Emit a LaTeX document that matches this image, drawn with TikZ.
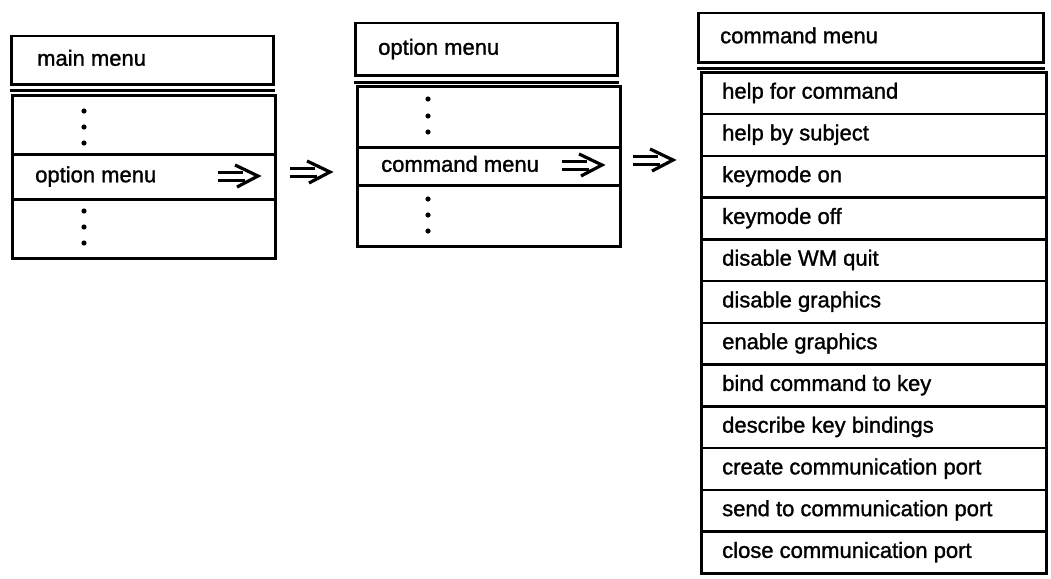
\documentclass[tikz,border=0pt]{standalone}
\usepackage{fontspec}
\setmainfont{Liberation Sans}
\newfontfamily\menufont[FakeBold=1.3]{Liberation Sans}
\begin{document}
\begin{tikzpicture}[x=1pt,y=-1pt,
  box/.style={draw,line width=2.5pt,rectangle,anchor=north west,inner xsep=0pt,inner ysep=0pt},
  lbl/.style={anchor=west,font=\menufont\fontsize{22}{26}\selectfont,text height=16pt,text depth=5pt,inner sep=0pt},
  sepline/.style={line width=2.5pt},
  dot/.style={fill=black},
  dblarrow/.pic={
    \draw[line width=3pt] (0,-4)--(25,-4) (0,4)--(27,4);
    \draw[line width=3.2pt,line join=miter] (17,-11)--(40,0)--(19,11);
  }]
\useasboundingbox (0,0) rectangle (1051,578);
% ---------- main menu ----------
\node[box,minimum width=262pt,minimum height=48pt] (tL) at (10,35) {};
\node[lbl] (tLt) at ([xshift=27pt]tL.west) {main menu};
\draw[sepline] ([yshift=-5pt]tL.south west) -- ([yshift=-5pt]tL.south east);
\node[box,minimum width=263pt,minimum height=59pt] (L1) at (11,94) {};
\node[box,minimum width=263pt,minimum height=45pt] (L2) at (11,153) {};
\node[lbl] (L2t) at ([xshift=24pt]L2.west) {option menu};
\node[box,minimum width=263pt,minimum height=59pt] (L3) at (11,198) {};
\foreach \y in {111,127,143,211,227,243} \fill[dot] (84,\y) circle (2.6);
\pic at (218,176) {dblarrow};
\pic at (290,172) {dblarrow};
% ---------- option menu ----------
\node[box,minimum width=262pt,minimum height=52pt] (tM) at (354,22) {};
\node[lbl] (tMt) at ([xshift=24pt]tM.west) {option menu};
\draw[sepline] ([yshift=-6pt]tM.south west) -- ([yshift=-6pt]tM.south east);
\node[box,minimum width=263pt,minimum height=61pt] (M1) at (356,85) {};
\node[box,minimum width=263pt,minimum height=38pt] (M2) at (356,146) {};
\node[lbl] (M2t) at ([xshift=25pt]M2.west) {command menu};
\node[box,minimum width=263pt,minimum height=61pt] (M3) at (356,184) {};
\foreach \y in {99,116,132,199,215,231} \fill[dot] (428,\y) circle (2.6);
\pic at (562,165) {dblarrow};
\pic at (633,160) {dblarrow};
% ---------- command menu ----------
\node[box,minimum width=345pt,minimum height=49pt] (tR) at (697,12) {};
\node[lbl] (tRt) at ([xshift=23pt]tR.west) {command menu};
\draw[sepline] ([yshift=-5pt]tR.south west) -- ([yshift=-5pt]tR.south east);
\foreach [count=\i] \t in {help for command,help by subject,keymode on,keymode off,disable WM quit,disable graphics,enable graphics,bind command to key,describe key bindings,create communication port,send to communication port,close communication port}{
  \node[box,minimum width=345pt,minimum height=41.75pt] (R\i) at (700,{71+(\i-1)*41.75}) {};
  \node[lbl] (R\i t) at ([xshift=22pt]R\i.west) {\t};
}
\end{tikzpicture}
\end{document}
